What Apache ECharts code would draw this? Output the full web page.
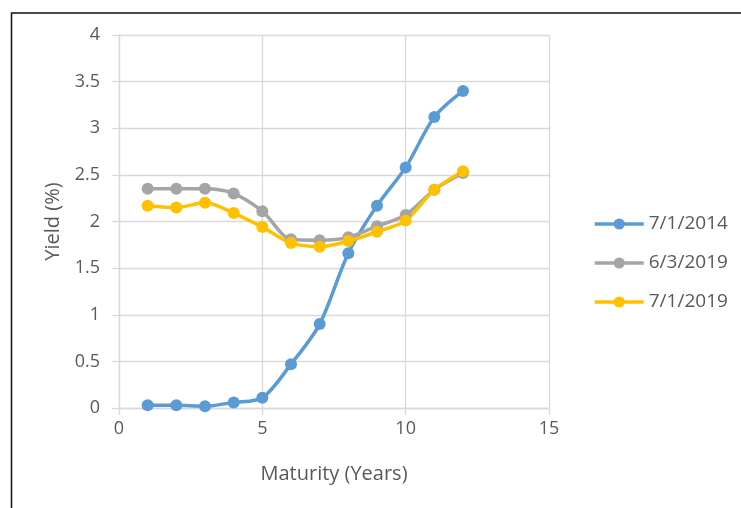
<!DOCTYPE html>
<html>
<head>
<meta charset="utf-8">
<script src="https://cdn.jsdelivr.net/npm/echarts@6/dist/echarts.min.js"></script>
<style>html,body{margin:0;padding:0;background:#fff;}#c{width:741px;height:508px;}</style>
</head>
<body>
<div id="c"></div>
<script>
const maturities = [1,2,3,4,5,6,7,8,9,10,11,12];
const seriesNames = ['7/1/2014','6/3/2019','7/1/2019'];
const yield2014 = [0.03,0.03,0.02,0.06,0.11,0.47,0.90,1.66,2.17,2.58,3.12,3.40];
const yieldJun2019 = [2.35,2.35,2.35,2.30,2.11,1.81,1.80,1.83,1.95,2.07,2.34,2.52];
const yieldJul2019 = [2.17,2.15,2.20,2.09,1.94,1.77,1.73,1.79,1.89,2.01,2.34,2.54];
const xTicks = [0,5,10,15];
const yTicks = [0,0.5,1,1.5,2,2.5,3,3.5,4];

const colors = ['#5B9BD5','#A5A5A5','#FFC000'];
const allValues = [yield2014, yieldJun2019, yieldJul2019];
const font = '"Open Sans", "Noto Sans", sans-serif';
const textColor = '#595959';
const gridColor = '#d9d9d9';

const chart = echarts.init(document.getElementById('c'), null, {renderer:'canvas'});
chart.setOption({
  animation: false,
  backgroundColor: '#fff',
  textStyle: {fontFamily: font},
  graphic: [{
    type: 'rect', left: 9, top: 10.5, silent: true,
    shape: {x: 0, y: 0, width: 800, height: 600},
    style: {fill: 'none', stroke: '#111', lineWidth: 1.5}
  }],
  grid: {left: 119, right: 192, top: 35, bottom: 100},
  legend: {
    orient: 'vertical', left: 593, top: 214, padding: 0,
    itemWidth: 49, itemHeight: 14, itemGap: 19,
    data: seriesNames,
    lineStyle: {width: 3.5},
    textStyle: {color: textColor, fontSize: 19, lineHeight: 20, fontFamily: font}
  },
  xAxis: {
    type: 'value', min: xTicks[0], max: xTicks[xTicks.length-1], interval: 5,
    name: 'Maturity (Years)', nameLocation: 'middle', nameGap: 56,
    nameTextStyle: {color: textColor, fontSize: 20, fontFamily: font},
    axisLine: {show: true, lineStyle: {color: gridColor, width: 1.3}},
    axisTick: {show: true, inside: false, length: 7, lineStyle: {color: gridColor, width: 1.3}},
    axisLabel: {color: textColor, fontSize: 18, margin: 12, fontFamily: font},
    splitLine: {show: true, lineStyle: {color: gridColor, width: 1.3}}
  },
  yAxis: {
    type: 'value', min: yTicks[0], max: yTicks[yTicks.length-1], interval: 0.5,
    name: 'Yield (%)', nameLocation: 'middle', nameGap: 52, nameRotate: 90,
    nameTextStyle: {color: textColor, fontSize: 20, fontFamily: font},
    axisLine: {show: true, lineStyle: {color: gridColor, width: 1.3}},
    axisTick: {show: true, inside: false, length: 7, lineStyle: {color: gridColor, width: 1.3}},
    axisLabel: {color: textColor, fontSize: 18, margin: 19, fontFamily: font},
    splitLine: {show: true, lineStyle: {color: gridColor, width: 1.3}}
  },
  series: seriesNames.map((name, i) => ({
    name: name,
    type: 'line',
    smooth: 0.3,
    symbol: 'circle',
    symbolSize: 12,
    color: colors[i],
    itemStyle: {color: colors[i]},
    lineStyle: {color: colors[i], width: 3.5},
    data: maturities.map((m, j) => [m, allValues[i][j]])
  }))
});
</script>
</body>
</html>
